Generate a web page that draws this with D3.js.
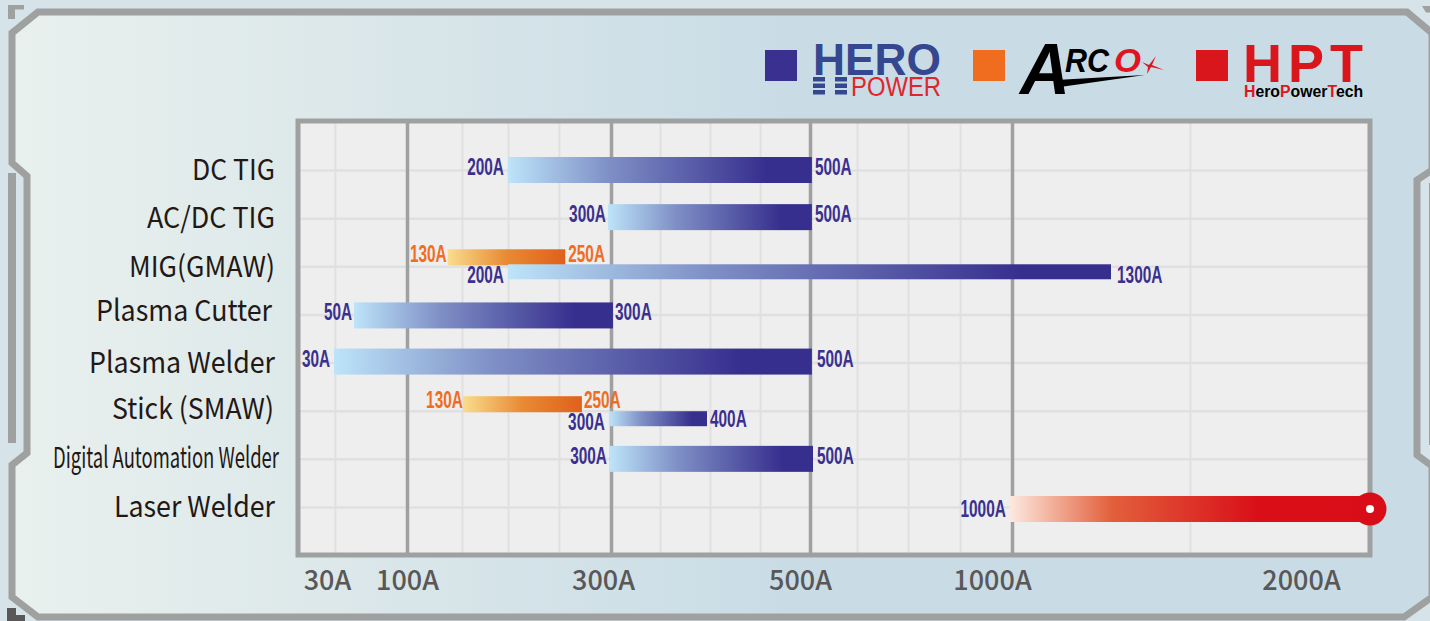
<!DOCTYPE html>
<html>
<head>
<meta charset="utf-8">
<script src="https://cdn.jsdelivr.net/npm/d3@7"></script>
<style>
  html, body { margin: 0; padding: 0; background: #c9dce6; overflow: hidden; }
  svg { display: block; }
  .domain { display: none; }
</style>
</head>
<body>
<svg id="chart" width="1430" height="621"></svg>
<script>
// categories, top to bottom
const categories = ["DC TIG", "AC/DC TIG", "MIG(GMAW)", "Plasma Cutter", "Plasma Welder", "Stick (SMAW)", "Digital Automation Welder", "Laser Welder"];

// one entry per bar. from/to are where the bar sits on the axis, labels are what is printed beside it
const barRows = ["DC TIG", "AC/DC TIG", "MIG(GMAW)", "MIG(GMAW)", "Plasma Cutter", "Plasma Welder", "Stick (SMAW)", "Stick (SMAW)", "Digital Automation Welder", "Laser Welder"];
const barBrands = ["hero", "hero", "arco", "hero", "hero", "hero", "arco", "hero", "hero", "hpt"];
const barSlots = ["full", "full", "upper", "lower", "full", "full", "upper", "lower", "full", "full"];
const barFrom = [200, 297, 137, 200, 50, 29, 151, 298, 299, 995];
const barTo = [505, 505, 256, 1300, 302, 505, 272, 397, 508, 2008];
const lowLabels = ["200A", "300A", "130A", "200A", "50A", "30A", "130A", "300A", "300A", "1000A"];
const highLabels = ["500A", "500A", "250A", "1300A", "300A", "500A", "250A", "400A", "500A", ""];

// axis
const axisTicks = [30, 100, 300, 500, 1000, 2000];
const majorTicks = [100, 300, 500, 1000];
const minorTicks = [30, 150, 200, 250, 350, 400, 450, 625, 750, 875, 1500];
const axisKnots = [29, 50, 100, 150, 200, 250, 300, 350, 400, 450, 500, 625, 750, 875, 1000, 1300, 1500, 2000, 2008];

const svg = d3.select("#chart");
const defs = svg.append("defs");

const plot = { left: 299, right: 1369, top: 122, bottom: 554 };

// the printed axis is hand spaced, so it is piecewise linear
const x = d3.scaleLinear()
  .domain(axisKnots)
  .range([334, 354, 407, 462, 508, 559, 611, 660, 710, 760, 810, 857, 908, 960, 1012, 1111, 1190, 1370, 1373]);
const y = d3.scalePoint().domain(categories).range([170, 507]);

const brandColor = { hero: "#3a308f", arco: "#f06d1f", hpt: "#3a308f" };
const slotBox = { full: [-13, 13], upper: [-17, -1], lower: [-2, 13] };
const rowShift = { "AC/DC TIG": -1, "Plasma Cutter": 1, "Plasma Welder": -1, "Stick (SMAW)": 2.5, "Laser Welder": 2 };
const catFont = "'Noto Sans CJK SC', 'Noto Sans', sans-serif";
const narrowFont = "'Liberation Sans', Arial, sans-serif";

function addGradient(id, stops, attrs) {
  const g = defs.append("linearGradient").attr("id", id);
  Object.entries(attrs || {}).forEach(([k, v]) => g.attr(k, v));
  stops.forEach(([o, c]) => g.append("stop").attr("offset", o).attr("stop-color", c));
}

addGradient("bg-inner", [[0, "#e9f1ee"], [0.2, "#dee9ea"], [0.55, "#c9dce6"], [1, "#c9dce6"]], { gradientUnits: "userSpaceOnUse", x1: 0, x2: 1430, y1: 0, y2: 0 });
addGradient("bar-hero", [[0, "#bde4f9"], [0.33, "#7f90c6"], [0.85, "#372f8e"], [1, "#372f8e"]]);
addGradient("bar-arco", [[0, "#f9dd8d"], [0.5, "#e98a33"], [1, "#e0601a"]]);
addGradient("bar-hpt", [[0, "#fde9df"], [0.28, "#e2603c"], [0.68, "#d90f18"], [1, "#d90d17"]]);

// background and frame
const frameLine = d3.line();
const frame = [[38, 12], [1407, 12], [1432, 33], [1432, 170], [1417, 180], [1417, 455], [1432, 466], [1432, 597], [1404, 617], [38, 617], [12, 597], [12, 465], [27, 453], [27, 176], [12, 163], [12, 33]];

svg.append("rect").attr("width", 1430).attr("height", 621).attr("fill", "#d6e4ea");
svg.append("path")
  .attr("d", frameLine(frame) + "Z")
  .attr("fill", "url(#bg-inner)")
  .attr("stroke", "#9fa0a0")
  .attr("stroke-width", 7);

const trims = [
  { x: 8, y: 173, w: 8, h: 270, c: "#9fa0a0" },
  { x: 1429, y: 183, w: 1, h: 262, c: "#9fa0a0" }
];
svg.selectAll("rect.trim").data(trims).join("rect").attr("class", "trim")
  .attr("x", d => d.x).attr("y", d => d.y).attr("width", d => d.w).attr("height", d => d.h).attr("fill", d => d.c);

// corner pieces
svg.append("path").attr("d", "M8 5H24V9.5H15V19H8Z").attr("fill", "#9fa0a0");
svg.append("path").attr("d", "M1422 6H1430V12.5H1426Z").attr("fill", "#9fa0a0");
svg.append("path").attr("d", "M7 608H16V615H25V621H7Z").attr("fill", "#595757");

// plot area
svg.append("rect")
  .attr("x", plot.left - 1).attr("y", plot.top - 1)
  .attr("width", plot.right - plot.left + 2).attr("height", plot.bottom - plot.top + 2)
  .attr("fill", "#eeeeee");

const gridX = svg.append("g").attr("transform", `translate(0,${plot.bottom})`)
  .call(d3.axisBottom(x).tickValues(minorTicks).tickSize(plot.top - plot.bottom).tickFormat(""));
gridX.selectAll("line").attr("stroke", "#e0e0e0").attr("stroke-width", 2);

const gridY = svg.append("g").attr("transform", `translate(${plot.left},0)`)
  .call(d3.axisLeft(y).tickSize(plot.left - plot.right).tickFormat(""));
gridY.selectAll("line").attr("stroke", "#e0e0e0").attr("stroke-width", 2.5);

const gridMajor = svg.append("g").attr("transform", `translate(0,${plot.bottom})`)
  .call(d3.axisBottom(x).tickValues(majorTicks).tickSize(plot.top - plot.bottom).tickFormat(""));
gridMajor.selectAll("line").attr("stroke", "#a0a0a0").attr("stroke-width", 3.5);

svg.append("rect")
  .attr("x", plot.left - 1).attr("y", plot.top - 1)
  .attr("width", plot.right - plot.left + 2).attr("height", plot.bottom - plot.top + 2)
  .attr("fill", "none").attr("stroke", "#9fa0a0").attr("stroke-width", 5);

// bars
const bars = barRows.map((row, i) => ({
  row,
  brand: barBrands[i],
  slot: barSlots[i],
  from: barFrom[i],
  to: barTo[i],
  low: lowLabels[i],
  high: highLabels[i],
  cy: y(row) + (rowShift[row] || 0)
}));

svg.selectAll("rect.bar").data(bars).join("rect").attr("class", "bar")
  .attr("x", d => x(d.from))
  .attr("width", d => x(d.to) - x(d.from))
  .attr("y", d => d.cy + slotBox[d.slot][0])
  .attr("height", d => slotBox[d.slot][1] - slotBox[d.slot][0])
  .attr("fill", d => `url(#bar-${d.brand})`);

// end cap of the laser bar, runs on past the last tick
const hptBar = bars.find(d => d.brand === "hpt");
svg.append("circle").attr("cx", x(2000)).attr("cy", hptBar.cy).attr("r", 16.5).attr("fill", "#d90d17");
svg.append("circle").attr("cx", x(2000)).attr("cy", hptBar.cy).attr("r", 4).attr("fill", "#fff");

// value labels are a squeezed bold face
function labelWidth(s) {
  return 8.7 * s.length + 2;
}
const labelDy = { full: 5, upper: -4, lower: 17 };
// the artwork places a few labels by hand: [dx, dy], keyed row|label
const lowNudge = {
  "DC TIG|200A": [-1, 0],
  "AC/DC TIG|300A": [1, 0],
  "MIG(GMAW)|130A": [2, 0],
  "MIG(GMAW)|200A": [-1, 0],
  "Plasma Cutter|50A": [1, 0],
  "Plasma Welder|30A": [-1, 0],
  "Stick (SMAW)|130A": [3, -1],
  "Stick (SMAW)|300A": [-1, 0],
  "Laser Welder|1000A": [-1, 3]
};
const highNudge = {
  "MIG(GMAW)|1300A": [3, 0],
  "Plasma Cutter|300A": [-1, 0],
  "Plasma Welder|500A": [2, 0],
  "Stick (SMAW)|250A": [-1, -1],
  "Stick (SMAW)|400A": [0, -3],
  "Digital Automation Welder|500A": [1, 0]
};

function valueLabel(text, px, py, anchor, color) {
  svg.append("text")
    .attr("x", px).attr("y", py)
    .attr("text-anchor", anchor)
    .attr("font-family", narrowFont)
    .attr("font-weight", 700)
    .attr("font-size", 23)
    .attr("fill", color)
    .attr("textLength", labelWidth(text))
    .attr("lengthAdjust", "spacingAndGlyphs")
    .text(text);
}

bars.forEach(d => {
  const [lx, ly] = lowNudge[`${d.row}|${d.low}`] || [0, 0];
  valueLabel(d.low, x(d.from) - 3 + lx, d.cy + labelDy[d.slot] + ly, "end", brandColor[d.brand]);
  if (d.high) {
    const [hx, hy] = highNudge[`${d.row}|${d.high}`] || [0, 0];
    valueLabel(d.high, x(d.to) + 3 + hx, d.cy + labelDy[d.slot] + hy, "start", brandColor[d.brand]);
  }
});

// category labels
const categoryWidths = { "DC TIG": 83, "AC/DC TIG": 128, "MIG(GMAW)": 146, "Plasma Cutter": 176, "Plasma Welder": 186, "Stick (SMAW)": 162, "Digital Automation Welder": 226, "Laser Welder": 161 };
const categoryEnds = { "Plasma Cutter": 272, "Stick (SMAW)": 274, "Digital Automation Welder": 279 };
const categoryDy = { "MIG(GMAW)": 1, "Plasma Cutter": -3, "Stick (SMAW)": -2, "Digital Automation Welder": -1 };

svg.selectAll("text.category").data(categories).join("text").attr("class", "category")
  .attr("x", d => categoryEnds[d] || 275)
  .attr("y", d => y(d) + 10 + (categoryDy[d] || 0))
  .attr("text-anchor", "end")
  .attr("font-family", catFont)
  .attr("font-size", 29)
  .attr("fill", "#231815")
  .attr("textLength", d => categoryWidths[d])
  .attr("lengthAdjust", "spacingAndGlyphs")
  .text(d => d);

// bottom axis, the labels sit left of their gridlines
const tickShift = { 30: -8, 100: 0, 300: -8, 500: -10, 1000: -20, 2000: -69 };
const axisG = svg.append("g").attr("transform", `translate(0,${plot.bottom})`)
  .call(d3.axisBottom(x).tickValues(axisTicks).tickSize(0).tickPadding(17).tickFormat(d => d + "A"));
axisG.selectAll("text")
  .attr("dx", d => tickShift[d])
  .attr("font-family", catFont)
  .attr("font-weight", 500)
  .attr("font-size", 27)
  .attr("fill", "#595757");

// legend squares
const legendBrands = ["hero", "arco", "hpt"];
const legendColors = ["#3a308f", "#f06d1f", "#d9161c"];
const legendX = d3.scaleOrdinal().domain(legendBrands).range([765, 973, 1196]);
svg.selectAll("rect.legend").data(legendBrands).join("rect").attr("class", "legend")
  .attr("x", d => legendX(d)).attr("y", 50).attr("width", 32).attr("height", 31)
  .attr("fill", (d, i) => legendColors[i]);

// logos
function logoText(text, px, py, size, width, color, opts) {
  const t = svg.append("text")
    .attr("x", px).attr("y", py)
    .attr("font-family", narrowFont)
    .attr("font-size", size)
    .attr("fill", color)
    .text(text);
  if (width) t.attr("textLength", width).attr("lengthAdjust", "spacingAndGlyphs");
  Object.entries(opts || {}).forEach(([k, v]) => t.attr(k, v));
  return t;
}

// HERO POWER
logoText("HERO", 813, 75, 44, 128, "#34478f", { "font-weight": 700 });
[0, 1].forEach(c => [0, 1, 2].forEach(r => {
  svg.append("rect").attr("x", 813 + c * 22).attr("y", 77 + r * 6.5).attr("width", 12).attr("height", 4.5).attr("fill", "#34478f");
}));
logoText("POWER", 851, 96, 27, 90, "#e0262c");

// ARCO
logoText("A", 1020, 94, 72, 50, "#000", { "font-weight": 700, "font-style": "italic" });
logoText("RC", 1065, 72, 33, 44, "#000", { "font-weight": 700, "font-style": "italic" });
logoText("O", 1114, 72, 34, 27, "#e0141e", { "font-weight": 700, "font-style": "italic" });
svg.append("path").attr("d", "M1056 80L1145 75L1060 87Z").attr("fill", "#000");
svg.append("path")
  .attr("d", "M1149 65L1156 56L1152 65L1164 70L1151 67L1147 74L1148 67L1142 62Z")
  .attr("fill", "#e0141e");

// HPT
logoText("HPT", 1243, 82, 54, 0, "#d9161c", { "font-weight": 700, "letter-spacing": 6 });
const hptSub = logoText("", 1244, 97, 15.8, 0, "#000", { "font-weight": 700 });
[["H", "#e0141e"], ["ero", "#000"], ["P", "#e0141e"], ["ower", "#000"], ["T", "#e0141e"], ["ech", "#000"]].forEach(([s, c]) => {
  hptSub.append("tspan").attr("fill", c).text(s);
});
</script>
</body>
</html>
